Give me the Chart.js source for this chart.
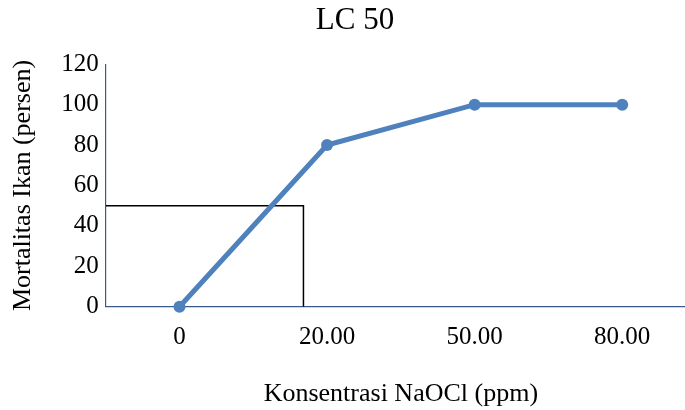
<!DOCTYPE html>
<html>
<head>
<meta charset="utf-8">
<script src="https://cdn.jsdelivr.net/npm/chart.js@4/dist/chart.umd.min.js"></script>
<style>
  html, body { margin: 0; padding: 0; background: #fff; overflow: hidden; }
  #wrap { width: 702px; height: 410px; }
</style>
</head>
<body>
<div id="wrap"><canvas id="lcChart" width="702" height="410"></canvas></div>
<script>
// data
const concLabels = ["0", "20.00", "50.00", "80.00"];
const mortality = [0, 80, 100, 100];
const yTicks = [0, 20, 40, 60, 80, 100, 120];
// LC50 guide: 50 % mortality, read between the first two categories
const lc50Value = 50;
const lc50Pos = 0.84;

const serif = "'Liberation Serif', 'Times New Roman', serif";
const axisBlue = "#3a5a8c";

const ctx = document.getElementById("lcChart").getContext("2d");
new Chart(ctx, {
  type: "line",
  data: {
    datasets: [
      {
        label: "Mortalitas",
        data: mortality.map((v, i) => ({ x: i, y: v })),
        borderColor: "#4f81bd",
        backgroundColor: "#4f81bd",
        borderWidth: 5,
        pointRadius: 6,
        pointHoverRadius: 6,
        pointBorderWidth: 0,
        clip: false,
      },
      {
        label: "LC50",
        data: [
          { x: -0.5, y: lc50Value },
          { x: lc50Pos, y: lc50Value },
          { x: lc50Pos, y: 0 },
        ],
        borderColor: "#000",
        borderWidth: 1.5,
        pointRadius: 0,
        fill: false,
      },
    ],
  },
  options: {
    responsive: false,
    animation: false,
    layout: { padding: { left: 8, right: 0, top: 0, bottom: 0 } },
    plugins: {
      legend: { display: false },
      tooltip: { enabled: false },
      title: {
        display: true,
        text: "LC 50",
        color: "#000",
        font: { family: serif, size: 31, weight: "normal" },
        padding: { top: 2, bottom: 25 },
      },
    },
    scales: {
      x: {
        type: "linear",
        min: -0.5,
        max: concLabels.length - 0.5,
        afterBuildTicks: (s) => {
          s.ticks = concLabels.map((_, i) => ({ value: i }));
        },
        ticks: {
          color: "#000",
          font: { family: serif, size: 25 },
          padding: 16,
          maxRotation: 0,
          callback: (v) => concLabels[v],
        },
        grid: { display: false, drawTicks: false },
        border: { display: true, color: axisBlue, width: 1.2 },
        title: {
          display: true,
          text: "Konsentrasi NaOCl (ppm)",
          color: "#000",
          font: { family: serif, size: 26 },
          padding: { top: 10, bottom: 0 },
        },
      },
      y: {
        min: 0,
        max: 120,
        afterBuildTicks: (s) => {
          s.ticks = yTicks.map((v) => ({ value: v }));
        },
        ticks: {
          color: "#000",
          font: { family: serif, size: 25 },
          padding: 7,
        },
        grid: { display: false, drawTicks: false },
        border: { display: true, color: axisBlue, width: 1.2 },
        title: {
          display: true,
          text: "Mortalitas Ikan (persen)",
          color: "#000",
          font: { family: serif, size: 26 },
          padding: { top: 0, bottom: 15 },
        },
      },
    },
  },
});
</script>
</body>
</html>
